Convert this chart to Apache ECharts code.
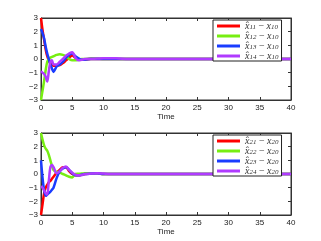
<!DOCTYPE html>
<html><head><meta charset="utf-8">
<script src="https://cdn.jsdelivr.net/npm/echarts@6/dist/echarts.min.js"></script>
<style>html,body{margin:0;padding:0;background:#fff}#c{width:321px;height:241px}</style>
</head><body><div id="c"></div>
<script>
const T = [0,0.25,0.5,0.75,1,1.25,1.5,1.75,2,2.5,3,3.5,4,4.5,5,5.5,6,6.5,7,8,9,10,11,12,14,20,40];
// top panel
const e11 = [3,2.1,1.4,0.7,0.2,-0.1,-0.3,-0.4,-0.5,-0.5,-0.45,-0.3,-0.1,0.1,0.25,0.1,0,-0.05,-0.05,0,0,0,0,0,0,0,0];
const e12 = [-3,-2.3,-1.6,-0.8,-0.2,0,0.1,0.15,0.2,0.3,0.35,0.3,0.2,0,-0.1,-0.1,-0.05,0,0,0.05,0.03,0,0,0,0,0,0];
const e13 = [2.2,1.9,1.5,0.9,0.4,0,-0.4,-0.7,-0.95,-0.55,-0.4,-0.2,0.1,0.3,0.4,0.2,0.05,-0.05,-0.05,0,0,0,0,0,0,0,0];
const e14 = [-0.9,-1.0,-1.1,-1.3,-1.65,-0.9,-0.2,-0.1,-0.4,-0.4,-0.2,0,0.25,0.4,0.5,0.1,-0.1,-0.05,0,0.02,0.03,0.05,0.05,0.05,0,0,0];
// bottom panel
const e21 = [-3,-2.2,-1.4,-1.0,-0.8,-0.6,-0.5,-0.35,-0.2,0.1,0.3,0.5,0.5,0.2,0,-0.1,-0.1,-0.05,0,0.05,0.05,0,0,0,0,0,0];
const e22 = [3,2.5,2.1,1.85,1.7,1.4,1.0,0.6,0.3,0.15,0.1,0,-0.1,-0.2,-0.25,0,0.02,0.03,0.05,0.05,0.05,0,0,0,0,0,0];
const e23 = [1.0,-0.3,-1.2,-1.6,-1.5,-1.4,-1.3,-1.15,-1.0,-0.3,0.2,0.4,0.5,0.3,0.05,-0.1,-0.1,-0.05,0,0.03,0.05,0,0,0,0,0,0];
const e24 = [-0.9,-1.0,-1.2,-1.4,-1.5,-0.5,0.5,0.65,0.5,0.05,0.2,0.45,0.55,0.3,0.1,-0.05,-0.1,-0.08,0,0.03,0.05,0.03,0,0,0,0,0];
const xTicks = [0,5,10,15,20,25,30,35,40];
const yTicks = [-3,-2,-1,0,1,2,3];
const topSubs = ['11','12','13','14'], topRef = '10';
const botSubs = ['21','22','23','24'], botRef = '20';
const colors = ['#ff0000','#77ee11','#1a3cff','#b03bff'];

const chart = echarts.init(document.getElementById('c'), null, {renderer:'canvas'});
const grids = [{left:41, top:18, width:250, height:82, show:true, borderColor:'#333', borderWidth:1},
               {left:41, top:133, width:250, height:82, show:true, borderColor:'#333', borderWidth:1}];
const xAxes = [], yAxes = [];
[0,1].forEach(g=>{
  xAxes.push({type:'value', gridIndex:g, min:xTicks[0], max:xTicks[xTicks.length-1], interval:5, name:'Time', nameLocation:'middle', nameGap:12,
    nameTextStyle:{fontSize:8, color:'#222', fontFamily:'Liberation Sans'},
    axisLine:{show:true, onZero:false, lineStyle:{color:'#333'}}, axisTick:{inside:true, length:3, lineStyle:{color:'#333'}},
    axisLabel:{fontSize:8, color:'#222', margin:4, fontFamily:'Liberation Sans'}, splitLine:{show:false}});
  xAxes.push({type:'value', gridIndex:g, position:'top', min:0, max:40, interval:5,
    axisLine:{show:true, onZero:false, lineStyle:{color:'#333'}}, axisTick:{inside:true, length:3, lineStyle:{color:'#333'}},
    axisLabel:{show:false}, splitLine:{show:false}});
  yAxes.push({type:'value', gridIndex:g, min:yTicks[0], max:yTicks[yTicks.length-1], interval:1,
    axisLine:{show:true, onZero:false, lineStyle:{color:'#333'}}, axisTick:{inside:true, length:3, lineStyle:{color:'#333'}},
    axisLabel:{fontSize:8, color:'#222', margin:3, fontFamily:'Liberation Sans', formatter:v=>String(v).replace('-','\u2212')}, splitLine:{show:false}});
  yAxes.push({type:'value', gridIndex:g, position:'right', min:-3, max:3, interval:1,
    axisLine:{show:true, onZero:false, lineStyle:{color:'#333'}}, axisTick:{inside:true, length:3, lineStyle:{color:'#333'}},
    axisLabel:{show:false}, splitLine:{show:false}});
});
const topData = [e11,e12,e13,e14], botData = [e21,e22,e23,e24];
const series = [];
const mk = (subs, ref) => subs.map(s => 'e' + s + '_' + ref);
const labelMap = {};
topSubs.forEach(s=>{ labelMap['e'+s+'_'+topRef] = [s, topRef]; });
botSubs.forEach(s=>{ labelMap['e'+s+'_'+botRef] = [s, botRef]; });
[[topData, topSubs, topRef, 0],[botData, botSubs, botRef, 1]].forEach(([data, subs, ref, g])=>{
  data.forEach((arr,i)=>{
    series.push({type:'line', name:'e'+subs[i]+'_'+ref, xAxisIndex:g*2, yAxisIndex:g*2, showSymbol:false, smooth:0.3,
      data: T.map((t,k)=>[t, arr[k]]), lineStyle:{width:2.5, color:colors[i]}, itemStyle:{color:colors[i]}, z:2, zlevel:0, animation:false});
  });
});
const rich = {
  v:{fontFamily:'Liberation Serif', fontStyle:'italic', fontSize:10, color:'#333', lineHeight:10, verticalAlign:'top'},
  s:{fontFamily:'Liberation Serif', fontStyle:'italic', fontSize:7, color:'#333', lineHeight:7, verticalAlign:'bottom'},
  o:{fontFamily:'Liberation Serif', fontSize:10, color:'#333', lineHeight:10, verticalAlign:'top'}
};
const legendCfg = (subs, ref, top) => ({
  orient:'vertical', left:213, top:top, itemWidth:23, itemHeight:3, itemGap:0, icon:'rect', z:20,
  data: mk(subs, ref), borderColor:'#222', borderWidth:1, backgroundColor:'#fff', padding:[1,3,0,4],
  formatter: n => { const p = labelMap[n]; return '{v|x\u0302}{s|' + p[0] + '}{o| \u2212 }{v|x}{s|' + p[1] + '}'; },
  textStyle:{rich:rich, lineHeight:10}, selectedMode:false
});
chart.setOption({
  animation:false,
  color: colors,
  grid: grids, xAxis: xAxes, yAxis: yAxes, series: series,
  legend: [legendCfg(topSubs, topRef, 20), legendCfg(botSubs, botRef, 135)]
});
</script></body></html>
